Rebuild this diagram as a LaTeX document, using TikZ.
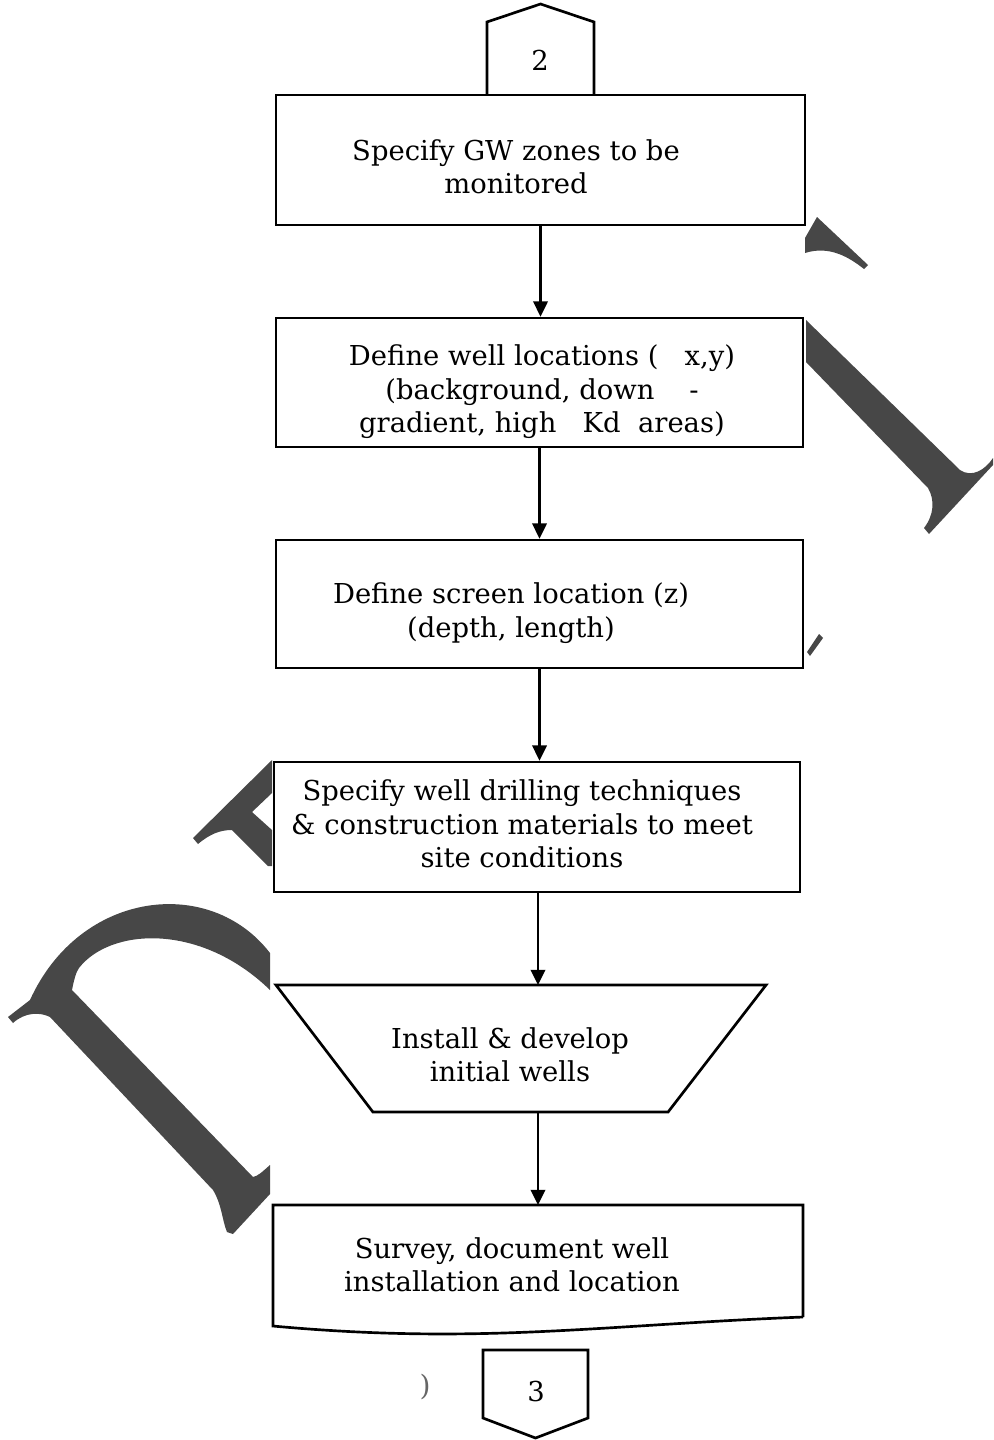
\documentclass[tikz,border=0pt]{standalone}
\usepackage{fontspec}
\setmainfont{DejaVu Serif}
\usetikzlibrary{arrows.meta}

\begin{document}
\begin{tikzpicture}[x=0.025cm,y=-0.025cm,
  stepbox/.style={draw,line width=1.9pt,fill=white,inner sep=0pt},
  blank/.style={inner sep=0pt,outer sep=0pt},
  txt/.style={align=center,inner sep=0pt,font=\fontsize{19.5}{23.8}\selectfont},
  flow/.style={line width=1.6pt,-{Triangle[width=0.36cm,length=0.38cm]}},
  stamp/.style={fill=black!72,draw=none}]
\useasboundingbox (0,0) rectangle (993,1440);
% stamp pieces left of and right of the column
\fill[stamp] (8,1017) -- (13,1023) .. controls (25,1012) and (40,1012) .. (50,1017) -- (213,1190)
  .. controls (222,1205) and (222,1220) .. (227,1232) -- (233,1234) -- (270,1194) -- (270,1165)
  .. controls (262,1172) and (258,1176) .. (253,1177) -- (72,990) .. controls (74,980) and (76,972) .. (79,968)
  .. controls (110,928) and (200,922) .. (270,990) -- (270,953) .. controls (210,875) and (80,890) .. (30,1000) -- cycle;
\fill[stamp] (272,760) -- (193,838) -- (198,844) .. controls (210,834) and (220,830) .. (232,830) -- (268,866)
  -- (272,866) -- (272,830) -- (252,812) -- (272,793) -- cycle;
\fill[stamp] (817,217) -- (868,265) -- (864,269) .. controls (850,258) and (830,245) .. (805,253) -- (805,238) -- cycle;
\fill[stamp] (806,320) -- (960,470) .. controls (972,478) and (985,470) .. (993,458) -- (993,465) -- (929,534)
  -- (924,528) .. controls (934,515) and (935,500) .. (928,488) -- (806,362) -- cycle;
\fill[stamp] (807,652) -- (819,634) -- (823,638) -- (810,656) -- cycle;
% off-page connector 2
\node[blank,minimum width=2.675cm,minimum height=1.825cm] (p2) at (540.5,58.5) {};
\draw[line width=1.9pt] (p2.south west) -- (p2.north west) -- ([shift={(0,-18)}]p2.north) -- (p2.north east) -- (p2.south east);
\node[txt] (n2) at (540,60) {2};
% process boxes
\node[stepbox,minimum width=13.225cm,minimum height=3.25cm] (b1) at (540.5,160) {};
\node[txt] (t1) at (516,167) {Specify GW zones to be\\monitored};
\node[stepbox,minimum width=13.175cm,minimum height=3.225cm] (b2) at (539.5,382.5) {};
\node[txt] (t2) at (542,392) {Define well locations (\ \ \ x,y)\\(background, down\ \ \ \ -\\gradient, high\ \ \ Kd\ \ areas)};
\node[stepbox,minimum width=13.175cm,minimum height=3.2cm] (b3) at (539.5,604) {};
\node[txt] (t3) at (511,613) {Define screen location (z)\\(depth, length)};
\node[stepbox,minimum width=13.15cm,minimum height=3.25cm] (b4) at (537,827) {};
\node[txt] (t4) at (522,824) {Specify well drilling techniques\\\& construction materials to meet\\site conditions};
% manual operation
\node[blank,minimum width=12.25cm,minimum height=3.175cm] (trap) at (521,1048.5) {};
\draw[line width=1.9pt,fill=white] (trap.north west) -- (trap.north east) -- ([shift={(-98,0)}]trap.south east)
  -- ([shift={(97,0)}]trap.south west) -- cycle;
\node[txt] (t5) at (510,1055) {Install \& develop\\initial wells};
% document
\node[blank,minimum width=13.25cm,minimum height=2.8cm] (doc) at (538,1261) {};
\draw[line width=1.9pt,fill=white] (doc.south east) -- (doc.north east) -- (doc.north west) -- ([shift={(0,9)}]doc.south west)
  .. controls (480,1345) and (600,1325) .. (doc.south east);
\node[txt] (t6) at (512,1265) {Survey, document well\\installation and location};
% off-page connector 3
\node[blank,minimum width=2.625cm,minimum height=1.7cm] (p3) at (535.5,1384) {};
\draw[line width=1.9pt] (p3.south west) -- (p3.north west) -- (p3.north east) -- (p3.south east)
  -- ([shift={(0,20)}]p3.south) -- cycle;
\node[txt] (n3) at (536,1392) {3};
\node[font=\fontsize{20}{20}\selectfont,text=black!60,inner sep=0pt] (paren) at (425,1387) {)};
% flow lines
\draw[flow] (b1.south) -- (b1.south |- b2.north);
\draw[flow] (b2.south) -- (b2.south |- b3.north);
\draw[flow] (b3.south) -- (b3.south |- b4.north);
\draw[flow] ([shift={(1,0)}]b4.south) -- ([shift={(1,0)}]b4.south |- trap.north);
\draw[flow] (doc.north |- trap.south) -- (doc.north);
\end{tikzpicture}
\end{document}
